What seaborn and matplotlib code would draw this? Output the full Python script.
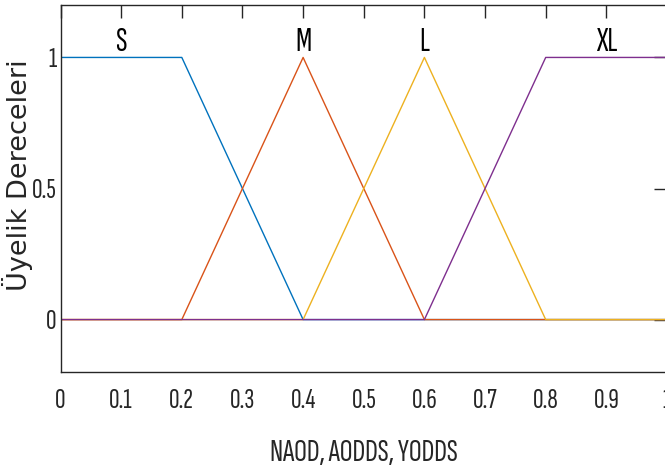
import numpy as np
import pandas as pd
import matplotlib
matplotlib.use("Agg")
import matplotlib.pyplot as plt
import seaborn as sns

# uyelik fonksiyonlari (kirik noktalar)
x_pts = [0, 0.2, 0.4, 0.6, 0.8, 1.0]
mf_S = [1, 1, 0, 0, 0, 0]
mf_M = [0, 0, 1, 0, 0, 0]
mf_L = [0, 0, 0, 1, 0, 0]
mf_XL = [0, 0, 0, 0, 1, 1]
names = ['S', 'M', 'L', 'XL']
peaks = [0.1, 0.4, 0.6, 0.9]
colors = ['#0072BD', '#D95319', '#EDB120', '#7E2F8E']

x_ticks = [0, 0.1, 0.2, 0.3, 0.4, 0.5, 0.6, 0.7, 0.8, 0.9, 1]
x_ticklabels = ['0', '0.1', '0.2', '0.3', '0.4', '0.5', '0.6', '0.7', '0.8', '0.9', '1']
y_ticks = [0, 0.5, 1]
y_ticklabels = ['0', '0.5', '1']

df = pd.concat([
    pd.DataFrame({'x': x_pts, 'mu': vals, 'set': n})
    for n, vals in zip(names, [mf_S, mf_M, mf_L, mf_XL])
])

sns.set_theme(style="white")
narrow = ['Sofia Sans Extra Condensed', 'Roboto Condensed', 'DejaVu Sans']
plt.rcParams['font.family'] = narrow

fig = plt.figure(figsize=(6.65, 4.73), dpi=100)
ax = fig.add_axes([0.0910, 0.2135, 0.9120, 0.7759])

sns.lineplot(data=df, x='x', y='mu', hue='set', palette=colors, linewidth=1.0,
             legend=False, ax=ax, sort=False)

for n, p in zip(names, peaks):
    ax.text(p, 1.0, n, ha='center', va='bottom', fontsize=24, color='black')

ax.set_xlim(0, 1)
ax.set_ylim(-0.2, 1.2)
ax.set_xticks(x_ticks)
ax.set_xticklabels(x_ticklabels)
ax.set_yticks(y_ticks)
ax.set_yticklabels(y_ticklabels)
ax.tick_params(direction='in', length=9.5, width=1, color='#262626',
               top=True, right=True, labelsize=21, labelcolor='#262626')
ax.tick_params(axis='x', pad=12)
ax.tick_params(axis='y', pad=3)
for s in ax.spines.values():
    s.set_color('#262626')
    s.set_linewidth(1)

ax.set_xlabel('NAOD, AODDS, YODDS', fontsize=23, color='#262626', labelpad=19)
ax.set_ylabel('Üyelik Dereceleri', fontsize=19.5, color='#262626',
              family=['DejaVu Sans'])
ax.yaxis.set_label_coords(-0.046, 0.535)

fig.savefig('out.png', dpi=100)
